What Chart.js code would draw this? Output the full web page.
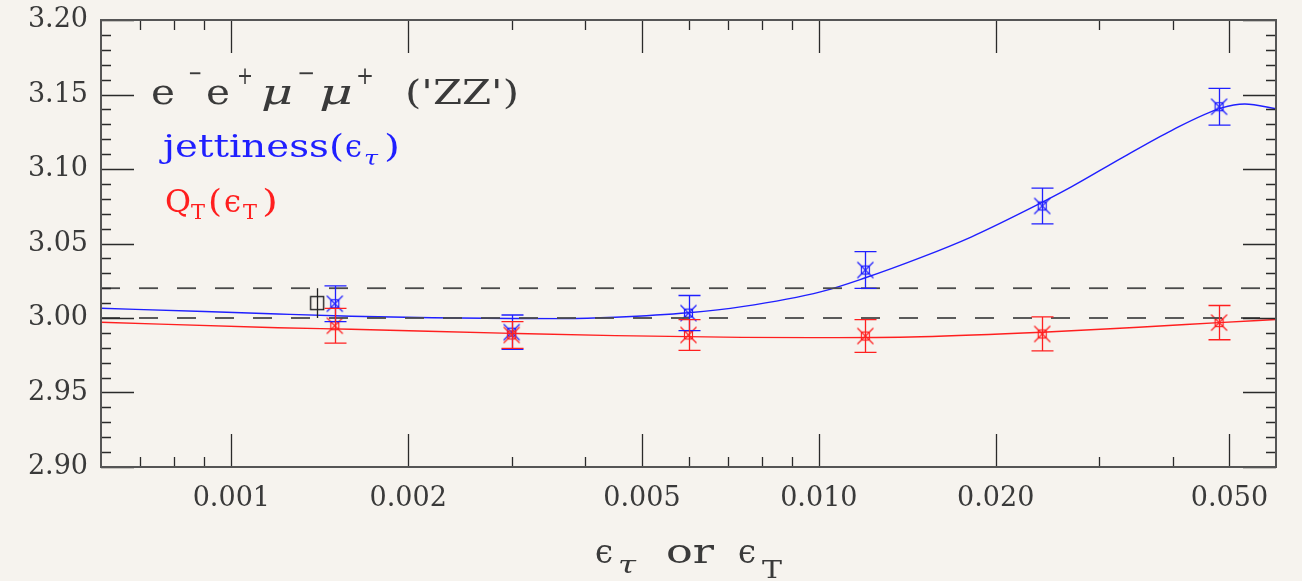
<!DOCTYPE html>
<html>
<head>
<meta charset="utf-8">
<script src="https://cdn.jsdelivr.net/npm/chart.js@4.4.1/dist/chart.umd.min.js"></script>
<style>
  html, body { margin: 0; padding: 0; background: #f6f3ee; }
  #plot { display: block; }
</style>
</head>
<body>
<canvas id="plot" width="1302" height="581"></canvas>
<script>
// cut values (epsilon) where both slicing methods were evaluated
const epsValues = [0.0015, 0.003, 0.006, 0.012, 0.024, 0.048];

// jettiness slicing: cross sections and errors
const jetY   = [3.0096, 2.9905, 3.0033, 3.0322, 3.0752, 3.1418];
const jetErr = [0.0120, 0.0115, 0.0118, 0.0123, 0.0120, 0.0123];

// qT slicing: cross sections and errors
const qtY   = [2.9948, 2.9886, 2.9886, 2.9879, 2.9893, 2.9969];
const qtErr = [0.0117, 0.0090, 0.0103, 0.0110, 0.0114, 0.0115];

// reference value (black square)
const refX = [0.0014];
const refY = [3.010];
const refErr = [0.010];

// dashed band
const bandLow = 3.00;
const bandHigh = 3.02;

// fitted curves
const jetFitX = [0.0006, 0.0009, 0.0012, 0.0016, 0.0022, 0.003, 0.0037, 0.0045, 0.006, 0.0074, 0.0101, 0.012, 0.0149, 0.0182, 0.0221, 0.0269, 0.0328, 0.0399, 0.0485, 0.0531, 0.0604];
const jetFitY = [3.0065, 3.0044, 3.0027, 3.0012, 3.0002, 2.9997, 2.9996, 3.0005, 3.0035, 3.0076, 3.0177, 3.0270, 3.0405, 3.0545, 3.0705, 3.0880, 3.1075, 3.1260, 3.1410, 3.1436, 3.1403];
const qtFitX = [0.0006, 0.0012, 0.0016, 0.003, 0.0045, 0.0074, 0.0101, 0.0149, 0.024, 0.035, 0.048, 0.0604];
const qtFitY = [2.9971, 2.9935, 2.9924, 2.9897, 2.9882, 2.9870, 2.9868, 2.9874, 2.9904, 2.9938, 2.9969, 2.9991];

// axes
const xMin = 0.0006, xMax = 0.06;
const yMin = 2.90, yMax = 3.20;
const xTickValues = [0.001, 0.002, 0.005, 0.01, 0.02, 0.05];
const xTickLabels = ['0.001', '0.002', '0.005', '0.010', '0.020', '0.050'];
const xMinorValues = [0.0007, 0.0008, 0.0009, 0.003, 0.004, 0.006, 0.007, 0.008, 0.009, 0.03, 0.04];
const yTickValues = [2.90, 2.95, 3.00, 3.05, 3.10, 3.15, 3.20];
const yTickLabels = ['2.90', '2.95', '3.00', '3.05', '3.10', '3.15', '3.20'];
const yMinorValues = [2.91, 2.92, 2.93, 2.94, 2.96, 2.97, 2.98, 2.99, 3.01, 3.02, 3.03, 3.04,
                      3.06, 3.07, 3.08, 3.09, 3.11, 3.12, 3.13, 3.14, 3.16, 3.17, 3.18, 3.19];

const BLUE = '#1f1fff';
const RED = '#ff1f1f';
const INK = '#3a3a3a';
const SERIF = '"DejaVu Serif", serif';

const toPts = (xs, ys) => xs.map((x, i) => ({ x: x, y: ys[i] }));

// small square with a diagonal cross through it
function crossBox(color) {
  const c = document.createElement('canvas');
  c.width = 19; c.height = 19;
  const g = c.getContext('2d');
  g.strokeStyle = color;
  g.lineWidth = 1.2;
  g.strokeRect(5.5, 5.5, 8, 8);
  g.beginPath();
  g.moveTo(1.5, 1.5); g.lineTo(17.5, 17.5);
  g.moveTo(17.5, 1.5); g.lineTo(1.5, 17.5);
  g.stroke();
  return c;
}
function openBox(color) {
  const c = document.createElement('canvas');
  c.width = 16; c.height = 16;
  const g = c.getContext('2d');
  g.strokeStyle = color;
  g.lineWidth = 1.4;
  g.strokeRect(1.5, 1.5, 13, 13);
  return c;
}

const errorSets = [
  { xs: epsValues, ys: jetY, es: jetErr, color: BLUE, cap: 11 },
  { xs: epsValues, ys: qtY, es: qtErr, color: RED, cap: 11 },
  { xs: refX, ys: refY, es: refErr, color: '#222', cap: 0 }
];

const errorBars = {
  id: 'errorBars',
  afterDatasetsDraw(chart) {
    const { ctx, scales: { x, y } } = chart;
    ctx.save();
    ctx.lineWidth = 1.3;
    errorSets.forEach(s => {
      ctx.strokeStyle = s.color;
      s.xs.forEach((xv, i) => {
        const px = Math.round(x.getPixelForValue(xv)) + 0.5;
        const top = y.getPixelForValue(s.ys[i] + s.es[i]);
        const bot = y.getPixelForValue(s.ys[i] - s.es[i]);
        ctx.beginPath();
        ctx.moveTo(px, top); ctx.lineTo(px, bot);
        if (s.cap) {
          ctx.moveTo(px - s.cap, top); ctx.lineTo(px + s.cap, top);
          ctx.moveTo(px - s.cap, bot); ctx.lineTo(px + s.cap, bot);
        }
        ctx.stroke();
      });
    });
    ctx.restore();
  }
};

// frame and inward tick marks on all four sides
const frame = {
  id: 'frame',
  afterDatasetsDraw(chart) {
    const { ctx, chartArea: a, scales: { x, y } } = chart;
    ctx.save();
    ctx.strokeStyle = '#2a2a2a';
    ctx.lineWidth = 1.3;
    const major = 33, minor = 10;
    ctx.beginPath();
    const yTick = (v, len) => {
      const py = Math.round(y.getPixelForValue(v)) + 0.5;
      ctx.moveTo(a.left, py); ctx.lineTo(a.left + len, py);
      ctx.moveTo(a.right, py); ctx.lineTo(a.right - len, py);
    };
    const xTick = (v, len) => {
      const px = Math.round(x.getPixelForValue(v)) + 0.5;
      ctx.moveTo(px, a.top); ctx.lineTo(px, a.top + len);
      ctx.moveTo(px, a.bottom); ctx.lineTo(px, a.bottom - len);
    };
    yTickValues.forEach(v => yTick(v, major));
    yMinorValues.forEach(v => yTick(v, minor));
    xTickValues.forEach(v => xTick(v, major));
    xMinorValues.forEach(v => xTick(v, minor));
    ctx.stroke();
    ctx.strokeStyle = '#555';
    ctx.lineWidth = 2;
    ctx.strokeRect(a.left, a.top, a.right - a.left, a.bottom - a.top);
    ctx.restore();
  }
};

// draw a text piece stretched to a given width
function piece(ctx, text, x, base, width, font, color) {
  ctx.save();
  ctx.font = font;
  ctx.fillStyle = color;
  ctx.textBaseline = 'alphabetic';
  const w = ctx.measureText(text).width;
  ctx.translate(x, base);
  ctx.scale(width / w, 1);
  ctx.fillText(text, 0, 0);
  ctx.restore();
}

const annotations = {
  id: 'annotations',
  beforeDraw(chart) {
    const ctx = chart.ctx;
    ctx.save();
    ctx.fillStyle = '#f6f3ee';
    ctx.fillRect(0, 0, chart.width, chart.height);
    ctx.restore();
  },
  afterDraw(chart) {
    const ctx = chart.ctx;
    const big = '36px ' + SERIF, bigIt = 'italic 36px ' + SERIF, sup = '24px ' + SERIF;
    // process label
    piece(ctx, 'e', 151, 104, 24, big, INK);
    piece(ctx, '\u2212', 188, 81, 14, sup, INK);
    piece(ctx, 'e', 206, 104, 24, big, INK);
    piece(ctx, '+', 237, 84, 16, sup, INK);
    piece(ctx, '\u03bc', 261, 104, 32, bigIt, INK);
    piece(ctx, '\u2212', 297, 81, 18, sup, INK);
    piece(ctx, '\u03bc', 319, 104, 34, bigIt, INK);
    piece(ctx, '+', 356, 84, 18, sup, INK);
    piece(ctx, "('ZZ')", 405, 104, 114, '34px ' + SERIF, INK);

    // series labels
    const mid = '31px ' + SERIF, sub = '21px ' + SERIF, subIt = 'italic 21px ' + SERIF;
    piece(ctx, 'jettiness(', 163, 157, 181, mid, BLUE);
    piece(ctx, '\u03f5', 345, 157, 17, mid, BLUE);
    piece(ctx, '\u03c4', 364, 165, 14, subIt, BLUE);
    piece(ctx, ')', 384, 157, 16, mid, BLUE);

    piece(ctx, 'Q', 165, 212, 26, mid, RED);
    piece(ctx, 'T', 191, 219, 14, sub, RED);
    piece(ctx, '(', 208, 212, 14, mid, RED);
    piece(ctx, '\u03f5', 224, 212, 17, mid, RED);
    piece(ctx, 'T', 243, 219, 14, sub, RED);
    piece(ctx, ')', 262, 212, 16, mid, RED);

    // x axis title
    const ax = '34px ' + SERIF;
    piece(ctx, '\u03f5', 595, 563, 18, ax, INK);
    piece(ctx, '\u03c4', 618, 573, 18, 'italic 24px ' + SERIF, INK);
    piece(ctx, 'or', 666, 563, 48, ax, INK);
    piece(ctx, '\u03f5', 738, 563, 18, ax, INK);
    piece(ctx, 'T', 762, 578, 20, '24px ' + SERIF, INK);
  }
};

new Chart(document.getElementById('plot'), {
  type: 'scatter',
  data: {
    datasets: [
      {
        data: [{ x: xMin, y: bandHigh }, { x: xMax, y: bandHigh }],
        showLine: true, borderColor: '#4a4a4a', borderWidth: 1.8, borderDash: [19, 19],
        pointRadius: 0
      },
      {
        data: [{ x: xMin, y: bandLow }, { x: xMax, y: bandLow }],
        showLine: true, borderColor: '#4a4a4a', borderWidth: 1.8, borderDash: [19, 19],
        pointRadius: 0
      },
      {
        data: toPts(qtFitX, qtFitY),
        showLine: true, borderColor: RED, borderWidth: 1.4,
        cubicInterpolationMode: 'monotone', pointRadius: 0
      },
      {
        data: toPts(jetFitX, jetFitY),
        showLine: true, borderColor: BLUE, borderWidth: 1.4,
        cubicInterpolationMode: 'monotone', pointRadius: 0
      },
      {
        data: toPts(epsValues, qtY),
        pointStyle: crossBox(RED), pointRadius: 9
      },
      {
        data: toPts(epsValues, jetY),
        pointStyle: crossBox(BLUE), pointRadius: 9
      },
      {
        data: toPts(refX, refY),
        pointStyle: openBox('#222'), pointRadius: 8
      }
    ]
  },
  options: {
    responsive: false,
    animation: false,
    devicePixelRatio: 1,
    layout: { padding: { top: 20, right: 26, left: 0, bottom: 0 } },
    plugins: { legend: { display: false }, tooltip: { enabled: false } },
    scales: {
      x: {
        type: 'logarithmic',
        min: xMin, max: xMax,
        afterBuildTicks: s => { s.ticks = xTickValues.map(v => ({ value: v })); },
        afterFit: s => { s.height = 114; s.paddingLeft = 0; s.paddingRight = 0; },
        grid: { display: false, drawTicks: false },
        border: { display: false },
        ticks: {
          autoSkip: false, maxRotation: 0, padding: 16,
          color: INK, font: { family: SERIF, size: 27 },
          callback: (v, i) => xTickLabels[i]
        }
      },
      y: {
        min: yMin, max: yMax,
        afterBuildTicks: s => { s.ticks = yTickValues.map(v => ({ value: v })); },
        afterFit: s => { s.width = 101; s.paddingTop = 0; s.paddingBottom = 0; },
        grid: { display: false, drawTicks: false },
        border: { display: false },
        ticks: {
          padding: 13,
          color: INK, font: { family: SERIF, size: 27 },
          callback: (v, i) => yTickLabels[i]
        }
      }
    }
  },
  plugins: [annotations, errorBars, frame]
});
</script>
</body>
</html>
